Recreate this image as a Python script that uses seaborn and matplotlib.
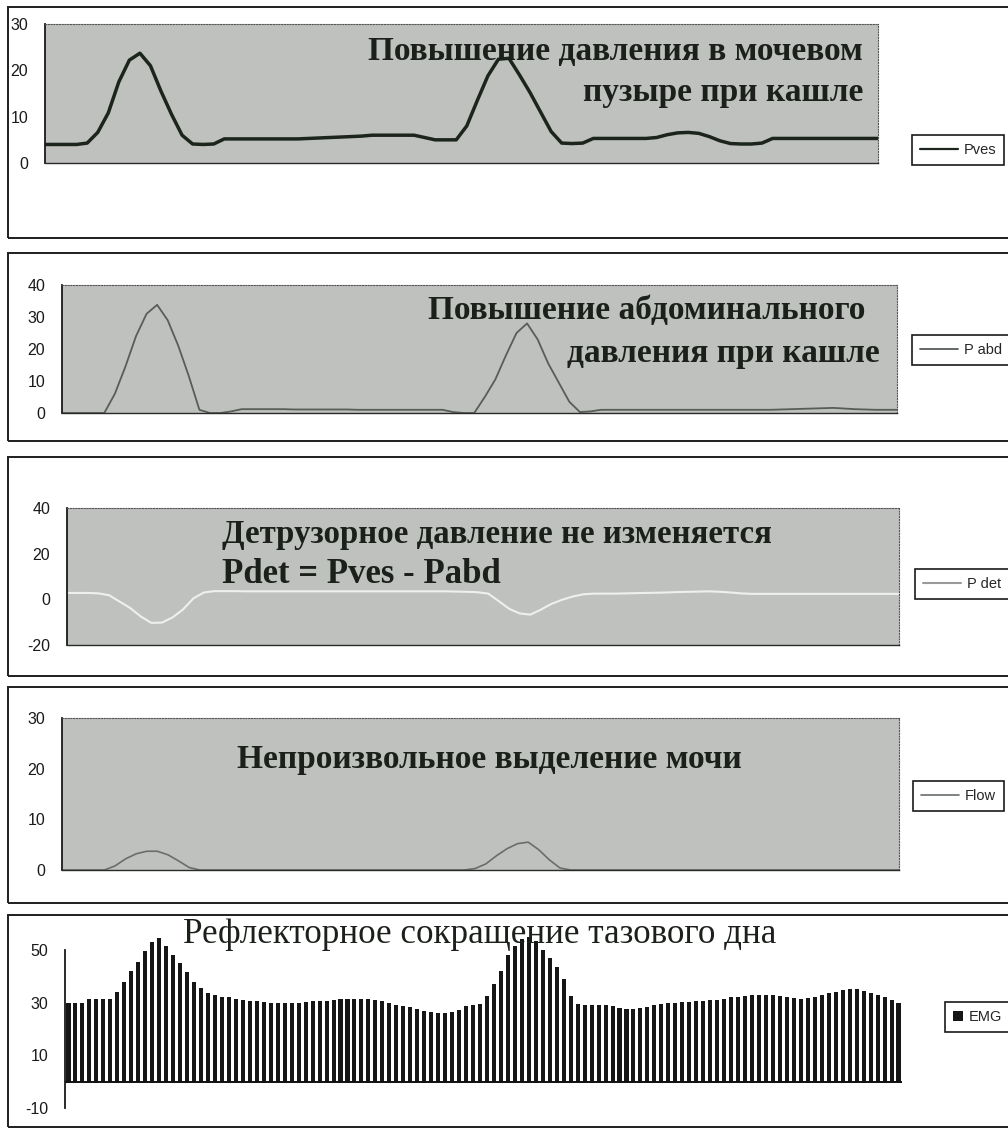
import numpy as np
import matplotlib
matplotlib.use("Agg")
import matplotlib.pyplot as plt
from matplotlib.patches import Rectangle
import seaborn as sns

# ---- data -------------------------------------------------------------
pves = [4.0, 4.0, 4.0, 4.0, 4.3, 6.6, 10.8, 17.5, 22.2, 23.7,
        21.0, 15.5, 10.5, 6.0, 4.1, 4.0, 4.1, 5.2, 5.2, 5.2,
        5.2, 5.2, 5.2, 5.2, 5.2, 5.3, 5.4, 5.5, 5.6, 5.7,
        5.8, 6.0, 6.0, 6.0, 6.0, 6.0, 5.5, 5.0, 5.0, 5.0,
        8.0, 13.5, 18.8, 22.4, 22.6, 19.0, 15.2, 11.0, 6.8, 4.3,
        4.2, 4.3, 5.3, 5.3, 5.3, 5.3, 5.3, 5.3, 5.5, 6.1,
        6.5, 6.6, 6.4, 5.7, 4.8, 4.2, 4.1, 4.1, 4.3, 5.3,
        5.3, 5.3, 5.3, 5.3, 5.3, 5.3, 5.3, 5.3, 5.3, 5.3]

pabd = [0.0, 0.0, 0.0, 0.0, 0.0, 6.0, 14.5, 24.0, 31.0, 33.8,
        29.0, 21.0, 11.5, 1.0, 0.0, 0.0, 0.5, 1.2, 1.2, 1.2,
        1.2, 1.2, 1.1, 1.1, 1.1, 1.1, 1.1, 1.1, 1.0, 1.0,
        1.0, 1.0, 1.0, 1.0, 1.0, 1.0, 1.0, 0.3, 0.0, 0.0,
        5.0, 10.5, 18.0, 25.0, 28.0, 23.0, 15.5, 9.5, 3.5, 0.3,
        0.5, 1.0, 1.0, 1.0, 1.0, 1.0, 1.0, 1.0, 1.0, 1.0,
        1.0, 1.0, 1.0, 1.0, 1.0, 1.0, 1.0, 1.0, 1.1, 1.2,
        1.3, 1.4, 1.5, 1.6, 1.4, 1.2, 1.1, 1.0, 1.0, 1.0]

pdet = [2.8, 2.8, 2.8, 2.6, 1.8, -1.0, -3.8, -7.5, -10.3, -10.2,
        -8.0, -4.5, 0.4, 3.0, 3.6, 3.6, 3.6, 3.5, 3.5, 3.5,
        3.5, 3.5, 3.5, 3.5, 3.5, 3.5, 3.5, 3.5, 3.5, 3.5,
        3.5, 3.5, 3.5, 3.5, 3.5, 3.5, 3.5, 3.4, 3.3, 3.1,
        2.5, -0.8, -4.2, -6.2, -6.7, -4.5, -2.0, -0.2, 1.2, 2.2,
        2.5, 2.5, 2.5, 2.6, 2.7, 2.8, 2.9, 3.0, 3.2, 3.3,
        3.4, 3.5, 3.3, 3.0, 2.6, 2.4, 2.4, 2.4, 2.4, 2.4,
        2.4, 2.4, 2.4, 2.4, 2.4, 2.4, 2.4, 2.4, 2.4, 2.4]

flow = [0.0, 0.0, 0.0, 0.0, 0.0, 0.8, 2.2, 3.2, 3.7, 3.7,
        3.0, 1.8, 0.5, 0.0, 0.0, 0.0, 0.0, 0.0, 0.0, 0.0,
        0.0, 0.0, 0.0, 0.0, 0.0, 0.0, 0.0, 0.0, 0.0, 0.0,
        0.0, 0.0, 0.0, 0.0, 0.0, 0.0, 0.0, 0.0, 0.0, 0.3,
        1.2, 2.8, 4.2, 5.2, 5.5, 4.0, 2.0, 0.4, 0.0, 0.0,
        0.0, 0.0, 0.0, 0.0, 0.0, 0.0, 0.0, 0.0, 0.0, 0.0,
        0.0, 0.0, 0.0, 0.0, 0.0, 0.0, 0.0, 0.0, 0.0, 0.0,
        0.0, 0.0, 0.0, 0.0, 0.0, 0.0, 0.0, 0.0, 0.0, 0.0]

emg = [30.0, 30.0, 30.0, 31.5, 31.5, 31.5, 31.5, 34.0, 38.0, 42.0,
       45.5, 49.5, 53.0, 54.5, 51.5, 48.0, 45.0, 41.5, 38.0, 35.5,
       33.5, 33.0, 32.3, 32.0, 31.5, 31.0, 30.8, 30.5, 30.2, 30.0,
       30.0, 30.0, 30.0, 30.0, 30.3, 30.6, 30.8, 30.8, 31.0, 31.3,
       31.5, 31.5, 31.5, 31.3, 31.0, 30.5, 30.0, 29.3, 28.8, 28.2,
       27.6, 27.0, 26.3, 26.0, 26.0, 26.5, 27.3, 28.8, 29.3, 29.6,
       32.5, 37.0, 42.0, 48.0, 51.5, 54.0, 55.0, 53.5, 50.0, 47.0,
       43.5, 39.0, 32.5, 29.6, 29.3, 29.0, 29.0, 29.0, 28.8, 28.0,
       27.6, 27.6, 27.8, 28.5, 29.0, 29.4, 29.7, 30.0, 30.2, 30.3,
       30.5, 30.7, 31.0, 31.2, 31.5, 32.0, 32.2, 32.5, 32.8, 33.0,
       33.0, 32.8, 32.6, 32.3, 31.8, 31.5, 31.8, 32.3, 32.8, 33.5,
       34.2, 34.8, 35.3, 35.2, 34.5, 33.8, 32.8, 32.0, 31.2, 30.0]

series_labels = ["Pves", "P abd", "P det", "Flow", "EMG"]
y_limits = [(0, 30), (0, 40), (-20, 40), (0, 30), (-10, 50)]
y_ticks = [[0, 10, 20, 30], [0, 10, 20, 30, 40], [-20, 0, 20, 40],
           [0, 10, 20, 30], [-10, 10, 30, 50]]

# ---- style ------------------------------------------------------------
sns.set_style("white")
plt.rcParams["font.family"] = ["Liberation Sans", "DejaVu Sans"]
plt.rcParams["axes.unicode_minus"] = False

W, H = 1008, 1132
fig = plt.figure(figsize=(W / 100, H / 100), dpi=100)
fig.patch.set_facecolor("white")


def fx(px):
    return px / W


def fy(py):
    return 1 - py / H


def make_axes(left, top, right, bottom):
    return fig.add_axes([fx(left), fy(bottom), (right - left) / W, (bottom - top) / H])


# outer frames of the five chart blocks
for top, bottom in [(7, 238), (253, 441), (457, 676), (687, 903), (915, 1127)]:
    fig.add_artist(Rectangle((fx(8), fy(bottom)), 1.2, (bottom - top) / H,
                             transform=fig.transFigure, fill=False,
                             lw=1.4, ec="#1e1e1e"))

plot_boxes = [(45, 24, 878, 163), (62, 285, 897, 413), (67, 508, 899, 645),
              (62, 718, 899, 870), (65, 950, 902, 1108)]
line_series = [pves, pabd, pdet, flow]
line_colors = ["#1c251c", "#585d58", "#efefef", "#6a6e6a"]
line_widths = [2.5, 1.3, 1.5, 1.2]
legend_pos = [(912, 150), (912, 350), (915, 584), (913, 796), (945, 1017)]
grey_bg = "#bfc1be"

axes = []
for k, box in enumerate(plot_boxes):
    ax = make_axes(*box)
    axes.append(ax)

for k in range(4):
    ax = axes[k]
    vals = line_series[k]
    t = np.arange(len(vals))
    ax.set_facecolor(grey_bg)
    sns.lineplot(x=t, y=vals, ax=ax, color=line_colors[k],
                 linewidth=line_widths[k], label=series_labels[k])
    ax.set_xlim(0, len(vals) - 1)

# EMG columns
ax5 = axes[4]
ax5.set_facecolor("white")
sns.barplot(x=np.arange(len(emg)), y=emg, ax=ax5, color="#161616",
            saturation=1, width=0.58, linewidth=0, edgecolor="#161616",
            label=series_labels[4])
for p in ax5.patches:
    p.set_clip_on(False)
ax5.set_xlim(-0.5, len(emg) - 0.5)
ax5.axhline(0, color="#111111", lw=1.4)

for k, ax in enumerate(axes):
    ax.set_ylim(*y_limits[k])
    ax.set_yticks(y_ticks[k])
    ax.set_xticks([])
    ax.set_xlabel("")
    ax.set_ylabel("")
    ax.tick_params(axis="y", direction="inout", length=8, width=1.1,
                   color="#1a1a1a", pad=8, labelsize=11.5, labelcolor="#1a1a1a")
    ax.spines["left"].set_color("#1a1a1a")
    ax.spines["left"].set_linewidth(1.3)
    if k < 4:
        for s in ["top", "right"]:
            ax.spines[s].set_linestyle((0, (1, 1.5)))
            ax.spines[s].set_linewidth(0.8)
            ax.spines[s].set_color("#555555")
        ax.spines["bottom"].set_color("#2a2a2a")
        ax.spines["bottom"].set_linewidth(1.0)
    else:
        for s in ["top", "right", "bottom"]:
            ax.spines[s].set_visible(False)
    lx, ly = legend_pos[k]
    leg = ax.legend(loc="center left", bbox_to_anchor=(fx(lx), fy(ly)),
                    bbox_transform=fig.transFigure, borderaxespad=0,
                    frameon=True, fancybox=False, framealpha=1,
                    edgecolor="#1a1a1a", fontsize=10.5,
                    handlelength=0.7 if k == 4 else 2.6,
                    handleheight=0.7,
                    handletextpad=0.4, borderpad=0.55)
    leg.get_frame().set_linewidth(1.2)
    if k < 4:
        for ln in leg.get_lines():
            ln.set_linewidth(min(line_widths[k], 1.6))
            if k == 2:
                ln.set_color("#9a9a9a")

# annotations inside the charts
serif = ["Liberation Serif", "DejaVu Serif"]
ink = "#1b201b"
bold_texts = [
    (863, 60, "Повышение давления в мочевом", "right", 24),
    (863, 101, "пузыре при кашле", "right", 24),
    (428, 319, "Повышение абдоминального", "left", 24),
    (567, 362, "давления при кашле", "left", 24),
    (222, 543, "Детрузорное давление не изменяется", "left", 23.7),
    (222, 583, "Pdet = Pves - Pabd", "left", 25),
    (237, 768, "Непроизвольное выделение мочи", "left", 24),
]
for x, y, s, ha, size in bold_texts:
    fig.text(fx(x), fy(y), s, ha=ha, va="baseline", fontsize=size,
             fontweight="bold", family=serif, color=ink)
fig.text(fx(183), fy(943), "Рефлекторное сокращение тазового дна",
         ha="left", va="baseline", fontsize=25.2, family=serif, color=ink)

fig.savefig("out.png", dpi=100)
